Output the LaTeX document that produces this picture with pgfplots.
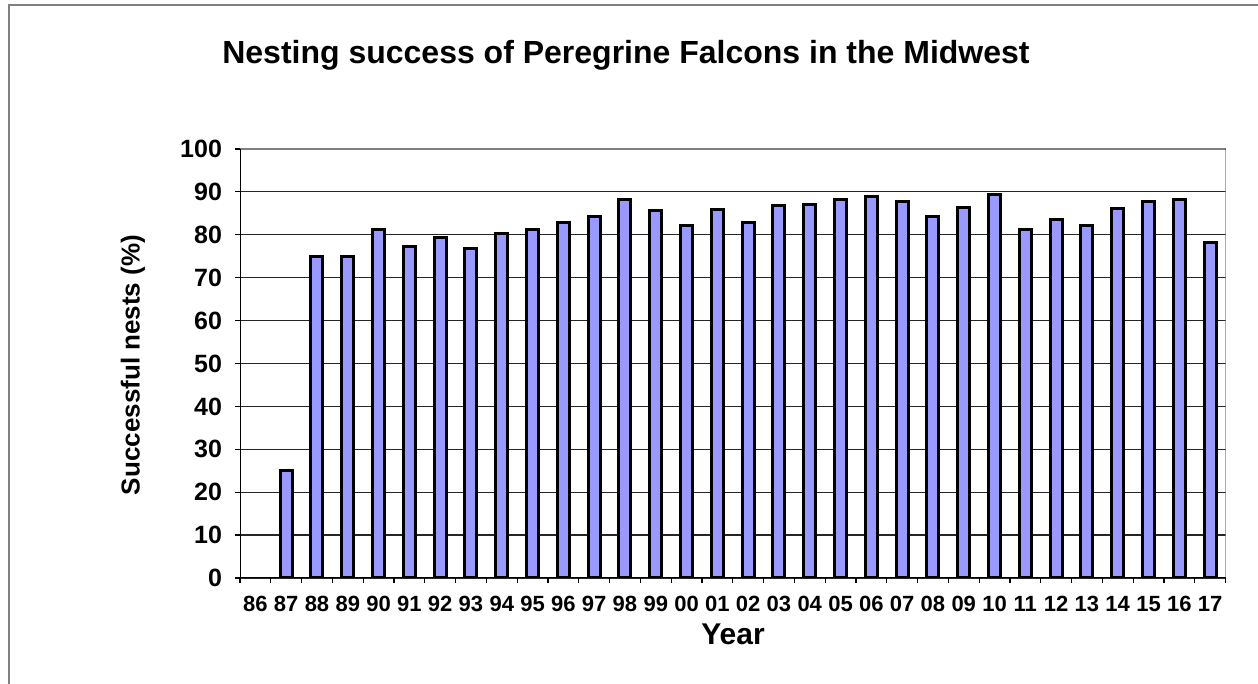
\documentclass[border=0pt]{standalone}
\usepackage{pgfplots}
\pgfplotsset{compat=1.18}
\usepackage{fontspec}
\setmainfont{Liberation Sans}
\definecolor{barblue}{HTML}{9999FF}
\definecolor{framegray}{HTML}{808080}
\begin{document}
\begin{tikzpicture}
\useasboundingbox (0,0) rectangle (629pt,342pt);
% outer chart frame (right and bottom run off the page)
\draw[framegray, line width=1pt] (4.5pt,-5pt) rectangle (640pt,339.5pt);
\begin{axis}[
    at={(120pt,53pt)}, anchor=south west,
    scale only axis, width=492.75pt, height=214.5pt,
    xmin=-0.5, xmax=31.5, ymin=0, ymax=100,
    ytick={0,10,...,100},
    xtick={0,...,31},
    xticklabels={86,87,88,89,90,91,92,93,94,95,96,97,98,99,00,01,02,03,04,05,06,07,08,09,10,11,12,13,14,15,16,17},
    minor xtick={-0.5,0.5,...,31.5},
    major x tick style={draw=none},
    tick pos=left, tick align=outside,
    major tick length=2.5pt, minor tick length=2.5pt,
    tick style={black, line width=0.6pt},
    ymajorgrids, grid style={black!85, line width=0.6pt},
    axis line style={draw=none},
    /pgf/number format/assume math mode=true,
    xticklabel style={font=\fontsize{11}{13}\selectfont\bfseries, yshift=-3pt},
    yticklabel style={font=\fontsize{12.5}{14}\selectfont\bfseries, xshift=-3pt},
]
\addplot[ybar, bar width=6pt, fill=barblue, draw=black, line width=1.5pt] coordinates {
    (1,25) (2,75) (3,75) (4,81.3) (5,77.3) (6,79.4) (7,76.8) (8,80.4)
    (9,81.2) (10,82.8) (11,84.2) (12,88.2) (13,85.6) (14,82.2) (15,85.8)
    (16,82.9) (17,86.8) (18,87.0) (19,88.3) (20,89.0) (21,87.8) (22,84.3)
    (23,86.4) (24,89.3) (25,81.3) (26,83.6) (27,82.2) (28,86.2) (29,87.7)
    (30,88.2) (31,78.3)
};
\draw[framegray, line width=1pt] (rel axis cs:0,1) -- (rel axis cs:1,1) -- (rel axis cs:1,0);
\draw[black, line width=0.7pt] (rel axis cs:0,1) -- (rel axis cs:0,0) -- (rel axis cs:1,0);
\end{axis}
\node[font=\fontsize{16}{19}\selectfont\bfseries] at (313pt,314.5pt) {Nesting success of Peregrine Falcons in the Midwest};
\node[font=\fontsize{13}{16}\selectfont\bfseries, rotate=90] at (66.5pt,159.5pt) {Successful nests (\%)};
\node[font=\fontsize{15}{18}\selectfont\bfseries] at (366.5pt,25pt) {Year};
\end{tikzpicture}
\end{document}
